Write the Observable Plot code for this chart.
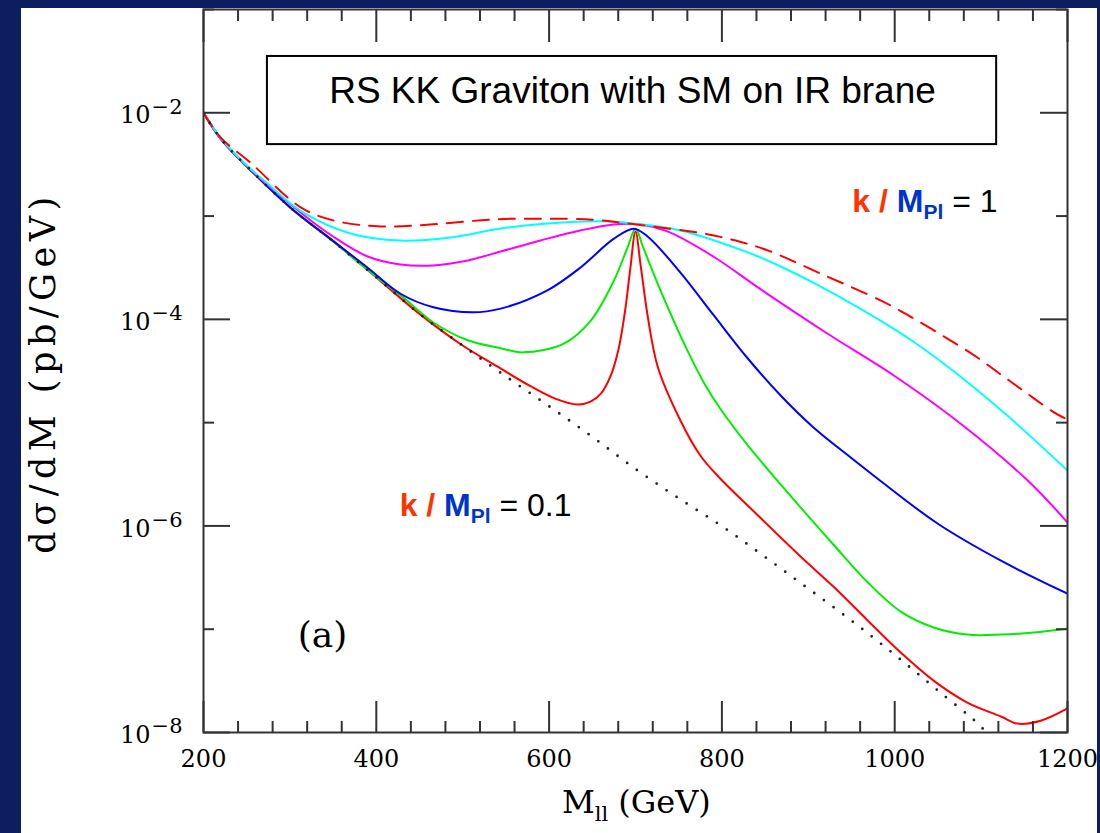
<!DOCTYPE html>
<html><head><meta charset="utf-8">
<script src="https://cdn.jsdelivr.net/npm/d3@7"></script>
<script src="https://cdn.jsdelivr.net/npm/@observablehq/plot@0.6"></script>
<style>
html,body{margin:0;padding:0;background:#0c1e5f;}
#wrap{position:relative;width:1100px;height:833px;overflow:hidden;background:#0c1e5f;}
#panel{position:absolute;left:21px;top:8px;width:1076px;height:825px;background:#fff;}
#chart{position:absolute;left:0;top:0;}
</style></head><body>
<div id="wrap"><div id="panel"></div><div id="chart"></div></div>
<script>
// ---- data (M in GeV, dsigma/dM in pb/GeV) ----
const massSM  = [200, 220, 250, 300, 350, 400, 450, 500, 550, 600, 650, 700, 750, 800, 850, 900, 950, 1000, 1050, 1100, 1105];
const sigmaSM = [1.0e-2, 5.6e-3, 3.04e-3, 1.22e-3, 5.70e-4, 2.55e-4, 1.13e-4, 5.56e-5, 2.80e-5, 1.44e-5, 7.28e-6, 3.56e-6, 1.85e-6, 9.95e-7, 5.0e-7, 2.47e-7, 1.21e-7, 5.66e-8, 2.55e-8, 1.14e-8, 1.0e-8];

const mass01  = [200, 220, 250, 300, 350, 400, 450, 500, 540, 579, 607, 633, 648, 660, 671, 680, 688, 694, 700, 706, 714, 726, 752, 775, 798, 837, 891, 929, 969, 1007, 1045, 1084, 1123, 1142, 1169, 1200];
const sigma01 = [1.0e-2, 5.6e-3, 3.04e-3, 1.22e-3, 5.70e-4, 2.55e-4, 1.13e-4, 5.58e-5, 3.50e-5, 2.24e-5, 1.71e-5, 1.50e-5, 1.60e-5, 1.91e-5, 2.80e-5, 4.99e-5, 1.22e-4, 3.11e-4, 7.08e-4, 3.32e-4, 1.09e-4, 3.42e-5, 1.05e-5, 4.81e-6, 2.88e-6, 1.38e-6, 5.06e-7, 2.59e-7, 1.21e-7, 5.94e-8, 3.18e-8, 1.95e-8, 1.43e-8, 1.22e-8, 1.30e-8, 1.71e-8];

const mass02  = [200, 220, 250, 300, 350, 400, 430, 466, 506, 544, 570, 617, 648, 675, 691, 700, 709, 729, 760, 781, 798, 830, 868, 891, 929, 969, 1007, 1045, 1084, 1123, 1161, 1200];
const sigma02 = [1.0e-2, 5.6e-3, 3.04e-3, 1.22e-3, 5.70e-4, 2.58e-4, 1.66e-4, 9.33e-5, 6.27e-5, 5.25e-5, 4.79e-5, 5.83e-5, 9.68e-5, 2.37e-4, 5.01e-4, 7.55e-4, 4.94e-4, 1.90e-4, 5.01e-5, 2.29e-5, 1.37e-5, 6.01e-6, 2.52e-6, 1.51e-6, 6.61e-7, 2.83e-7, 1.48e-7, 1.04e-7, 8.87e-8, 8.87e-8, 9.27e-8, 1.01e-7];

const mass03  = [200, 220, 250, 300, 350, 390, 428, 466, 512, 544, 598, 636, 675, 698, 714, 752, 790, 830, 868, 906, 949, 980, 1050, 1123, 1200];
const sigma03 = [1.0e-2, 5.6e-3, 3.04e-3, 1.22e-3, 5.75e-4, 3.16e-4, 1.77e-4, 1.31e-4, 1.17e-4, 1.27e-4, 1.91e-4, 3.16e-4, 6.04e-4, 7.55e-4, 6.34e-4, 2.84e-4, 1.11e-4, 4.18e-5, 1.83e-5, 8.98e-6, 4.60e-6, 2.88e-6, 1.05e-6, 4.61e-7, 2.21e-7];

const mass05  = [200, 220, 250, 312, 350, 390, 428, 466, 506, 544, 590, 636, 675, 706, 737, 790, 845, 922, 999, 1076, 1154, 1200];
const sigma05 = [1.0e-2, 5.6e-3, 3.05e-3, 1.09e-3, 6.34e-4, 4.06e-4, 3.40e-4, 3.33e-4, 3.72e-4, 4.54e-4, 5.81e-4, 7.26e-4, 8.30e-4, 8.30e-4, 7.10e-4, 4.06e-4, 1.95e-4, 7.29e-5, 2.86e-5, 9.82e-6, 2.75e-6, 1.08e-6];

const mass07  = [200, 220, 250, 274, 312, 370, 428, 486, 544, 598, 668, 698, 752, 830, 868, 903, 960, 1018, 1076, 1134, 1200];
const sigma07 = [1.0e-2, 5.7e-3, 3.1e-3, 2.07e-3, 1.13e-3, 6.78e-4, 5.79e-4, 6.21e-4, 7.59e-4, 8.47e-4, 8.87e-4, 8.49e-4, 7.26e-4, 4.45e-4, 3.25e-4, 2.33e-4, 1.27e-4, 6.38e-5, 2.80e-5, 1.10e-5, 3.44e-6];

const mass10  = [200, 220, 254, 312, 350, 405, 466, 536, 598, 650, 688, 735, 779, 816, 853, 914, 986, 1022, 1059, 1094, 1123, 1155, 1183, 1200];
const sigma10 = [1.0e-2, 5.75e-3, 3.31e-3, 1.22e-3, 9.08e-4, 7.94e-4, 8.32e-4, 9.29e-4, 9.44e-4, 9.23e-4, 8.53e-4, 7.64e-4, 6.78e-4, 5.79e-4, 4.65e-4, 2.78e-4, 1.49e-4, 1.02e-4, 6.67e-5, 4.37e-5, 2.92e-5, 1.87e-5, 1.28e-5, 1.07e-5];

const xMajor = [200, 400, 600, 800, 1000, 1200];
const xMajorLabels = ["200", "400", "600", "800", "1000", "1200"];
const xMinor = [240, 280, 320, 360, 440, 480, 520, 560, 640, 680, 720, 760, 840, 880, 920, 960, 1040, 1080, 1120, 1160];
const yMajor = [1e-2, 1e-4, 1e-6, 1e-8];
const yMajorExp = ["\u22122", "\u22124", "\u22126", "\u22128"];
const yMinor = [1e-1, 1e-3, 1e-5, 1e-7];
const kValues = ["1", "0.1"];
const title = "RS KK Graviton with SM on IR brane";

const zip = (ms, ss) => ms.map((m, i) => ({m, s: ss[i]}));
const serif = "DejaVu Serif, serif";
const sans = "Liberation Sans, Arial, sans-serif";

const line = (ms, ss, stroke, extra = {}) =>
  Plot.line(zip(ms, ss), {x: "m", y: "s", stroke, strokeWidth: 2, curve: "catmull-rom", clip: true, ...extra});

const chart = Plot.plot({
  width: 1100, height: 833,
  marginLeft: 203, marginRight: 33, marginTop: 9, marginBottom: 101,
  style: {background: "none", overflow: "visible"},
  x: {domain: [200, 1200], axis: null, label: null},
  y: {type: "log", domain: [1e-8, 1e-1], axis: null, label: null},
  marks: [
    // inset title box
    Plot.rect([title], {x1: 274, x2: 1118, y1: 4.92e-3, y2: 3.51e-2, fill: "white", stroke: "black", strokeWidth: 2}),
    Plot.text([title], {x: 696.5, y: 1.607e-2, text: d => d, fontSize: 37, fontFamily: sans, fill: "black", lineAnchor: "middle"}),
    // curves
    line(mass01, sigma01, "#ff0000"),
    line(mass02, sigma02, "#00ee00"),
    line(mass03, sigma03, "#0000ff"),
    line(mass05, sigma05, "#ff00ff"),
    line(mass07, sigma07, "#00ffff"),
    line(mass10, sigma10, "#ff0000", {strokeDasharray: "16,10"}),
    line(massSM, sigmaSM, "#222", {strokeDasharray: "0,12", strokeLinecap: "round", strokeWidth: 2.8}),
    // frame and ticks
    Plot.frame({stroke: "#333", strokeWidth: 2}),
    Plot.tickX(xMajor, {x: d => d, insetTop: 692, stroke: "#333", strokeWidth: 2}),
    Plot.tickX(xMinor, {x: d => d, insetTop: 712, stroke: "#333", strokeWidth: 2}),
    Plot.tickX(xMajor, {x: d => d, insetBottom: 690, stroke: "#333", strokeWidth: 2}),
    Plot.tickX(xMinor, {x: d => d, insetBottom: 711, stroke: "#333", strokeWidth: 2}),
    Plot.tickY(yMajor, {y: d => d, insetRight: 837, stroke: "#333", strokeWidth: 2}),
    Plot.tickY(yMinor, {y: d => d, insetRight: 853, stroke: "#333", strokeWidth: 2}),
    Plot.tickY(yMajor, {y: d => d, insetLeft: 837, stroke: "#333", strokeWidth: 2}),
    Plot.tickY(yMinor, {y: d => d, insetLeft: 853, stroke: "#333", strokeWidth: 2}),
    // tick labels
    Plot.text(xMajor, {x: d => d, text: (d, i) => xMajorLabels[i], frameAnchor: "bottom", dy: 27, lineAnchor: "middle", fontSize: 24, fontFamily: serif, fill: "black"}),
    Plot.text(yMajor, {y: d => d, text: () => "10", frameAnchor: "left", textAnchor: "end", dx: -53, dy: 3, lineAnchor: "middle", fontSize: 24, fontFamily: serif, fill: "black"}),
    Plot.text(yMajor, {y: d => d, text: (d, i) => yMajorExp[i], frameAnchor: "left", textAnchor: "end", dx: -21, dy: -6, lineAnchor: "middle", fontSize: 21, fontFamily: serif, fill: "black"}),
    // axis titles
    Plot.text(["Mll (GeV)"], {x: 701, text: d => d, frameAnchor: "bottom", dy: 80, lineAnchor: "bottom", fontSize: 32, fontFamily: serif, fill: "black"}),
    Plot.text(["d\u03c3/dM (pb/GeV)"], {y: 3.06e-5, text: d => d, frameAnchor: "left", textAnchor: "middle", dx: -160, rotate: -90, lineAnchor: "middle", fontSize: 35, fontFamily: serif, fill: "black"}),
    // annotations
    Plot.text(["(a)"], {x: 337.7, y: 8.7e-8, text: d => d, fontSize: 36, fontFamily: serif, lineAnchor: "middle", fill: "black"}),
    Plot.text([kValues[0]], {x: 951, y: 1.09e-3, text: d => `k / MPl = ${d}`, textAnchor: "start", lineAnchor: "bottom", fontSize: 32, fontFamily: sans, fill: "black"}),
    Plot.text([kValues[1]], {x: 427, y: 1.26e-6, text: d => `k / MPl = ${d}`, textAnchor: "start", lineAnchor: "bottom", fontSize: 32, fontFamily: sans, fill: "black"})
  ]
});

document.getElementById("chart").appendChild(chart);

// rich-text post processing (colours, subscripts)
function rich(key, parts) {
  d3.select(chart).selectAll("text").filter(function () { return this.textContent === key; }).each(function () {
    const t = d3.select(this);
    t.text(null);
    for (const p of parts) {
      const s = t.append("tspan").text(p.text);
      if (p.fill) s.attr("fill", p.fill);
      if (p.weight) s.attr("font-weight", p.weight);
      if (p.size) s.attr("font-size", p.size);
      if (p.dy) s.attr("dy", p.dy);
    }
  });
}
const RED = "#ff3300", BLUE = "#0033cc";
for (const k of kValues) {
  rich(`k / MPl = ${k}`, [
    {text: "k / ", fill: RED, weight: "bold"},
    {text: "M", fill: BLUE, weight: "bold"},
    {text: "Pl", fill: BLUE, weight: "bold", size: 21, dy: 7},
    {text: " = " + k, fill: "#000", weight: "normal", size: 32, dy: -7}
  ]);
}
rich("Mll (GeV)", [
  {text: "M"},
  {text: "ll", size: 21, dy: 8},
  {text: " (GeV)", size: 32, dy: -8}
]);
d3.select(chart).selectAll("text").filter(function () { return this.textContent === "d\u03c3/dM (pb/GeV)"; })
  .attr("letter-spacing", "5.5px");
</script></body></html>
